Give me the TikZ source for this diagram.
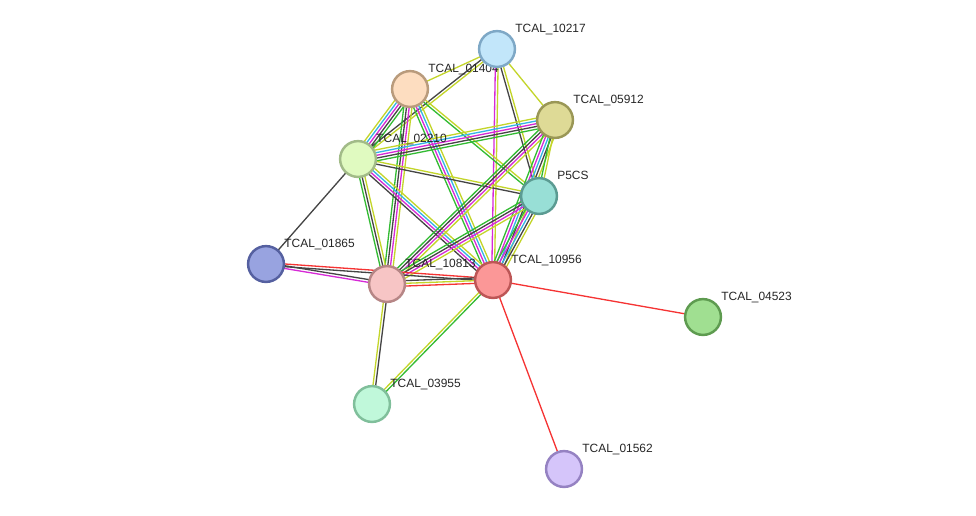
\documentclass[tikz,border=0pt]{standalone}
\usepackage{fontspec}
\setmainfont{Liberation Sans}
\usetikzlibrary{calc,backgrounds}

% evidence colours
\definecolor{tm}{HTML}{C3D52A}
\definecolor{cx}{HTML}{454545}
\definecolor{ex}{HTML}{D62AD6}
\definecolor{db}{HTML}{35B4E4}
\definecolor{nb}{HTML}{33BB33}
\definecolor{fu}{HTML}{F53333}
% protein colours
\definecolor{f10217}{HTML}{C2E6FA} \definecolor{d10217}{HTML}{7EA8C6}
\definecolor{f01404}{HTML}{FDDDC0} \definecolor{d01404}{HTML}{B99B7C}
\definecolor{f05912}{HTML}{DEDA96} \definecolor{d05912}{HTML}{9A9756}
\definecolor{f02210}{HTML}{E0FAC0} \definecolor{d02210}{HTML}{A2BB88}
\definecolor{fP5CS}{HTML}{98DFD6}  \definecolor{dP5CS}{HTML}{5B9B92}
\definecolor{f01865}{HTML}{98A3E0} \definecolor{d01865}{HTML}{5560A0}
\definecolor{f10813}{HTML}{F7C5C5} \definecolor{d10813}{HTML}{B68686}
\definecolor{f10956}{HTML}{FB9797} \definecolor{d10956}{HTML}{BD5656}
\definecolor{f04523}{HTML}{A0DF91} \definecolor{d04523}{HTML}{5E9B50}
\definecolor{f03955}{HTML}{C0F8DA} \definecolor{d03955}{HTML}{80BF9B}
\definecolor{f01562}{HTML}{D5C5FA} \definecolor{d01562}{HTML}{9582C2}

\tikzset{
  prot/.style={circle, minimum size=20.4pt, inner sep=0pt, line width=1.4pt},
  plabel/.style={anchor=base west, inner sep=0pt, text=black!85,
    font=\fontsize{6.8}{8}\selectfont},
  edge/.style={line width=0.75pt}
}

% parallel evidence lines between two proteins
\newcommand{\plink}[3]{%
  \foreach \c [count=\k] in {#3} {\xdef\nlines{\k}}%
  \foreach \c [count=\i] in {#3} {%
    \pgfmathsetmacro\off{(\i-(\nlines+1)/2)*1.55}%
    \draw[\c, edge] ($(#1)!\off pt!90:(#2)$) -- ($(#2)!\off pt!-90:(#1)$);}}

\begin{document}
\begin{tikzpicture}[x=0.02cm, y=-0.02cm]
\useasboundingbox (0,0) rectangle (976,515);

\foreach \n/\x/\y/\txt in {01404/410/89/TCAL\_01404, 10217/497/49/TCAL\_10217,
    05912/555/120/TCAL\_05912, 02210/358/159/TCAL\_02210, P5CS/539/196/P5CS,
    01865/266/264/TCAL\_01865, 10813/387/284/TCAL\_10813, 10956/493/280/TCAL\_10956,
    04523/703/317/TCAL\_04523, 03955/372/404/TCAL\_03955, 01562/564/469/TCAL\_01562}{
  \node[prot, fill=f\n, draw=d\n] (p\n) at (\x,\y) {};
  \node[plabel] (l\n) at ($(p\n)+(18,-16.5)$) {\txt};
}

\begin{pgfonlayer}{background}
\plink{p10217}{p01404}{tm}
\plink{p10217}{p02210}{cx,tm}
\plink{p10217}{p10956}{ex,tm}
\plink{p10217}{pP5CS}{cx,tm}
\plink{p10217}{p05912}{tm}
\plink{p01404}{p02210}{tm,db,ex,cx,nb}
\plink{p01404}{p10813}{nb,cx,ex,tm}
\plink{p01404}{p10956}{nb,ex,db,tm}
\plink{p01404}{pP5CS}{nb,tm}
\plink{p02210}{p05912}{nb,cx,ex,db,tm}
\plink{p02210}{pP5CS}{cx,tm}
\plink{p02210}{p10813}{nb,cx,tm}
\plink{p02210}{p10956}{cx,ex,db,tm}
\plink{p02210}{p01865}{cx}
\plink{p05912}{p10813}{nb,cx,ex,tm}
\plink{p05912}{p10956}{nb,ex,db,cx,tm}
\plink{p05912}{pP5CS}{nb,tm}
\plink{pP5CS}{p10813}{nb,cx,ex,tm}
\plink{pP5CS}{p10956}{nb,ex,db,cx,tm}
\plink{p01865}{p10956}{cx,fu}
\plink{p01865}{p10813}{ex,cx}
\plink{p10813}{p10956}{fu,tm,cx}
\plink{p10813}{p03955}{tm,cx}
\plink{p10956}{p03955}{tm,nb}
\plink{p10956}{p04523}{fu}
\plink{p10956}{p01562}{fu}
\end{pgfonlayer}
\end{tikzpicture}
\end{document}
